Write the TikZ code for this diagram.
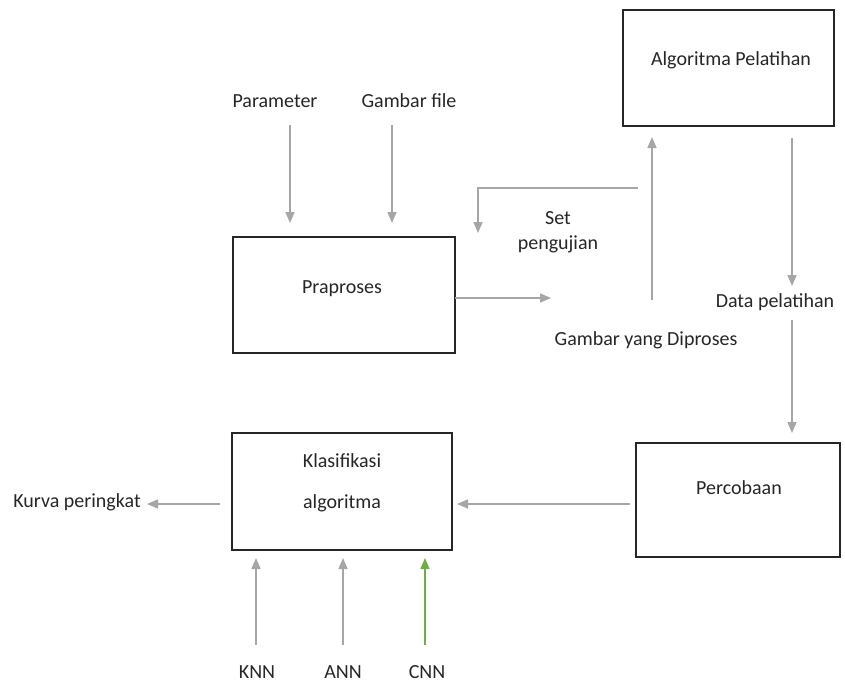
\documentclass[tikz,border=0pt]{standalone}
\usepackage{fontspec}
\setmainfont{Carlito}
\usetikzlibrary{arrows.meta}
\definecolor{linegray}{HTML}{A6A6A6}
\definecolor{txt}{HTML}{262626}
\definecolor{cnngreen}{HTML}{70AD47}
\begin{document}
\begin{tikzpicture}[x=1pt,y=-1pt,
  box/.style={draw=black!85,line width=1.3pt,inner sep=0pt},
  lbl/.style={inner sep=0pt,text=txt,font=\fontsize{20}{24}\selectfont},
  arr/.style={draw=linegray,line width=1.5pt,-{Triangle[length=11pt,width=9pt]}},
  ln/.style={draw=linegray,line width=1.5pt}]
\useasboundingbox (0,0) rectangle (845,686);

% boxes
\node[box,minimum width=211pt,minimum height=116pt] (train) at (728.5,68) {};
\node[box,minimum width=222pt,minimum height=116pt] (prep) at (344,295) {};
\node[box,minimum width=220pt,minimum height=117pt] (clf) at (342,491.5) {};
\node[box,minimum width=204pt,minimum height=114pt] (exp) at (738,500) {};

% box texts
\node[lbl] (trainT) at (731,60) {Algoritma Pelatihan};
\node[lbl] (prepT) at (342,289) {Praproses};
\node[lbl] (clfA) at (342,461) {Klasifikasi};
\node[lbl] (clfB) at (342,503) {algoritma};
\node[lbl] (expT) at (739,488) {Percobaan};

% free labels
\node[lbl] (param) at (275,101) {Parameter};
\node[lbl] (gfile) at (409,101) {Gambar file};
\node[lbl] (set1) at (558,218) {Set};
\node[lbl] (set2) at (558,244) {pengujian};
\node[lbl] (proc) at (646,340) {Gambar yang Diproses};
\node[lbl] (data) at (775,302) {Data pelatihan};
\node[lbl] (curve) at (77,502) {Kurva peringkat};
\node[lbl] (knn) at (257,672) {KNN};
\node[lbl] (ann) at (343,672) {ANN};
\node[lbl] (cnn) at (427,672) {CNN};

% connector end points
\coordinate (p0) at (290,125);  \coordinate (p1) at (290,223);
\coordinate (g0) at (392,125);  \coordinate (g1) at (392,223);
\coordinate (s0) at (638,188);  \coordinate (s1) at (478,188);
\coordinate (s2) at (478,233);
\coordinate (r0) at (455,298);  \coordinate (r1) at (551,298);
\coordinate (u0) at (652,300);  \coordinate (u1) at (652,137);
\coordinate (d0) at (792,138);  \coordinate (d1) at (792,286);
\coordinate (e0) at (792,320);  \coordinate (e1) at (792,433);
\coordinate (c0) at (630,504);  \coordinate (c1) at (457,504);
\coordinate (k0) at (220,504);  \coordinate (k1) at (147,504);
\coordinate (n0) at (256,645);  \coordinate (n1) at (256,558);
\coordinate (a0) at (343,645);  \coordinate (a1) at (343,558);
\coordinate (m0) at (425,645);  \coordinate (m1) at (425,558);

% connectors
\draw[arr] (p0) -- (p1);
\draw[arr] (g0) -- (g1);
\draw[arr] (s0) -- (s1) -- (s2);
\draw[arr] (r0) -- (r1);
\draw[arr] (u0) -- (u1);
\draw[arr] (d0) -- (d1);
\draw[arr] (e0) -- (e1);
\draw[arr] (c0) -- (c1);
\draw[arr] (k0) -- (k1);
\draw[arr] (n0) -- (n1);
\draw[arr] (a0) -- (a1);
\draw[arr,draw=cnngreen] (m0) -- (m1);
\end{tikzpicture}
\end{document}
